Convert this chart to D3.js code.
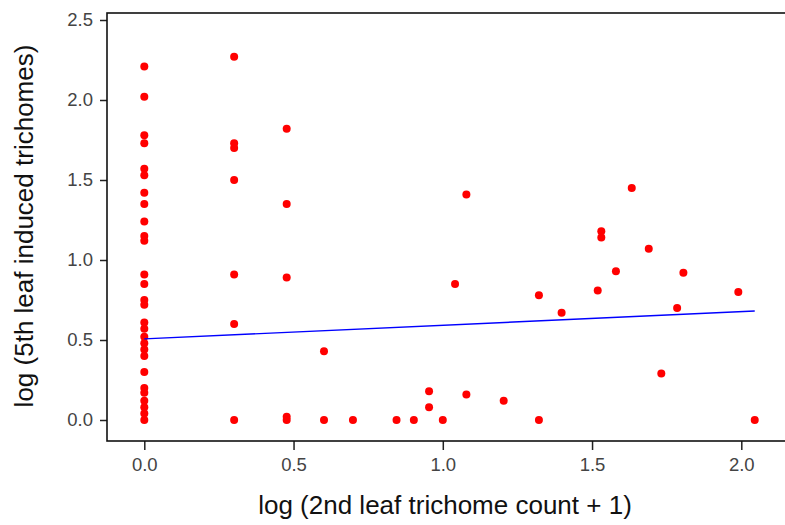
<!DOCTYPE html>
<html>
<head>
<meta charset="utf-8">
<script src="https://cdn.jsdelivr.net/npm/d3@7"></script>
<style>
    body { margin: 0; background: #fff; }
    svg { display: block; font-family: "Liberation Sans", Arial, sans-serif; }
    .tick text { fill: #444; font-size: 18.5px; }
    .title { fill: #111; font-size: 26px; }
</style>
</head>
<body>
<div id="chart"></div>
<script>
// log (2nd leaf trichome count + 1), one entry per plant
const leaf2 = [
    0, 0, 0, 0, 0, 0, 0, 0, 0, 0, 0, 0, 0, 0, 0, 0, 0, 0, 0, 0, 0, 0, 0, 0, 0, 0, 0, 0,
    0.301, 0.301, 0.301, 0.301, 0.301, 0.301, 0.301,
    0.477, 0.477, 0.477, 0.477, 0.477,
    0.602, 0.602,
    0.699, 0.845, 0.903, 0.954, 0.954, 1.0, 1.041, 1.079, 1.079, 1.204,
    1.322, 1.322, 1.398, 1.519, 1.531, 1.531, 1.580, 1.633, 1.690, 1.732,
    1.785, 1.806, 1.990, 2.045
];
// log (5th leaf induced trichomes), same order
const leaf5 = [
    2.21, 2.02, 1.78, 1.73, 1.57, 1.53, 1.42, 1.35, 1.24, 1.15, 1.12, 0.91, 0.85, 0.75,
    0.72, 0.61, 0.57, 0.52, 0.48, 0.44, 0.40, 0.30, 0.20, 0.17, 0.12, 0.08, 0.04, 0.0,
    2.27, 1.73, 1.70, 1.50, 0.91, 0.60, 0.0,
    1.82, 1.35, 0.89, 0.02, 0.0,
    0.43, 0.0,
    0.0, 0.0, 0.0, 0.18, 0.08, 0.0, 0.85, 1.41, 0.16, 0.12,
    0.78, 0.0, 0.67, 0.81, 1.18, 1.14, 0.93, 1.45, 1.07, 0.29,
    0.70, 0.92, 0.80, 0.0
];
const xTicks = [0, 0.5, 1.0, 1.5, 2.0];
const yTicks = [0, 0.5, 1.0, 1.5, 2.0, 2.5];
// fitted line (intercept, slope) as drawn
const fitIntercept = 0.507;
const fitSlope = 0.085;

const width = 785, height = 525;
const frame = { left: 107, top: 13, bottom: 441, right: 792 };

const svg = d3.select('#chart').append('svg')
    .attr('width', width)
    .attr('height', height);

const x = d3.scaleLinear().domain([0, 2]).range([144.3, 741.3]);
const y = d3.scaleLinear().domain([0, 2.5]).range([420, 20]);

// axes with ticks outside the box
const axisX = svg.append('g')
    .attr('transform', `translate(0,${frame.bottom})`)
    .call(d3.axisBottom(x).tickValues(xTicks).tickFormat(d3.format('.1f'))
        .tickSize(9).tickPadding(8).tickSizeOuter(0));
const axisY = svg.append('g')
    .attr('transform', `translate(${frame.left},0)`)
    .call(d3.axisLeft(y).tickValues(yTicks).tickFormat(d3.format('.1f'))
        .tickSize(7).tickPadding(7).tickSizeOuter(0));
[axisX, axisY].forEach(a => {
    a.select('.domain').remove();
    a.selectAll('.tick line').attr('stroke', '#222').attr('stroke-width', 1.5);
});

// plot box (right side runs off the picture)
svg.append('rect')
    .attr('x', frame.left).attr('y', frame.top)
    .attr('width', frame.right - frame.left)
    .attr('height', frame.bottom - frame.top)
    .attr('fill', 'none')
    .attr('stroke', '#111')
    .attr('stroke-width', 1.6);

// points
const points = leaf2.map((v, i) => [v, leaf5[i]]);
svg.append('g').selectAll('circle')
    .data(points)
    .join('circle')
    .attr('cx', d => x(d[0]))
    .attr('cy', d => y(d[1]))
    .attr('r', 4)
    .attr('fill', '#ff0000');

// regression line over the x range
const xr = d3.extent(leaf2);
svg.append('line')
    .attr('x1', x(xr[0])).attr('y1', y(fitIntercept + fitSlope * xr[0]))
    .attr('x2', x(xr[1])).attr('y2', y(fitIntercept + fitSlope * xr[1]))
    .attr('stroke', '#0000ff')
    .attr('stroke-width', 1.4);

// axis titles
svg.append('text').classed('title', true)
    .attr('x', 445).attr('y', 514)
    .attr('text-anchor', 'middle')
    .text('log (2nd leaf trichome count + 1)');
svg.append('text').classed('title', true)
    .attr('transform', 'translate(33,226)rotate(-90)')
    .attr('text-anchor', 'middle')
    .text('log (5th leaf induced trichomes)');
</script>
</body>
</html>
